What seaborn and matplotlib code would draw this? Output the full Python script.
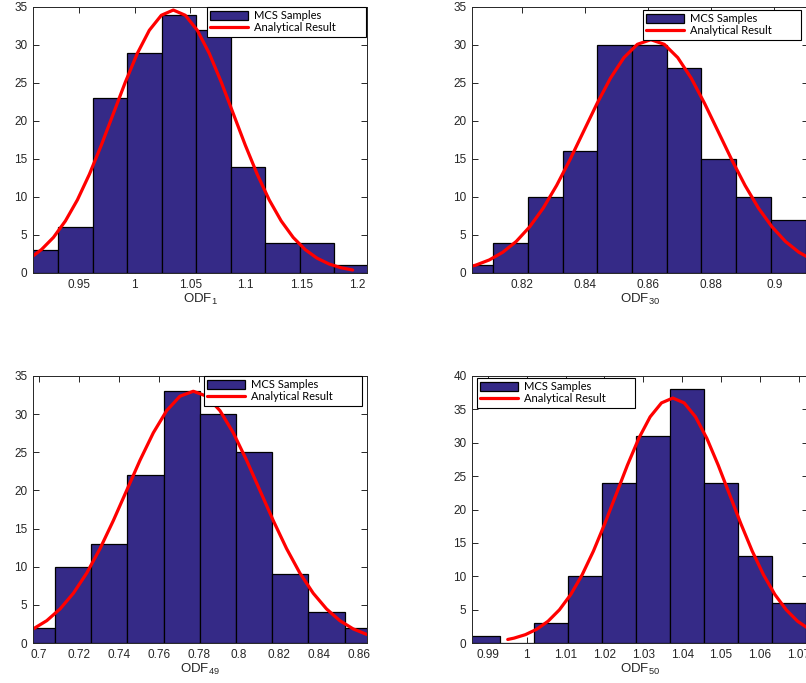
import numpy as np
import pandas as pd
import matplotlib
matplotlib.use("Agg")
import matplotlib.pyplot as plt
import seaborn as sns
from matplotlib.patches import Patch
from matplotlib.lines import Line2D

# ---------------- data ----------------
# Panel ODF_1
odf1_counts = [3, 6, 23, 29, 34, 32, 14, 4, 4, 1]
odf1_first_edge = 0.9000
odf1_bin_width = 0.03105
odf1_curve_x = [0.9083, 0.9159, 0.9267, 0.9375, 0.9483, 0.9591, 0.9699, 0.9807, 0.9915,
                1.0023, 1.0131, 1.0239, 1.0347, 1.0455, 1.0563, 1.0671, 1.0779, 1.0887,
                1.0995, 1.1103, 1.1211, 1.1319, 1.1427, 1.1535, 1.1643, 1.1751, 1.1859, 1.1963]
odf1_curve_y = [2.24, 3.08, 4.68, 6.85, 9.62, 12.99, 16.84, 20.98, 25.12,
                28.90, 31.94, 33.91, 34.60, 33.91, 31.94, 28.90, 25.12, 20.98,
                16.84, 12.99, 9.62, 6.85, 4.68, 3.08, 1.94, 1.18, 0.69, 0.39]
odf1_xticks = [0.95, 1.0, 1.05, 1.1, 1.15, 1.2]
odf1_xticklabels = ["0.95", "1", "1.05", "1.1", "1.15", "1.2"]

# Panel ODF_30
odf30_counts = [1, 4, 10, 16, 30, 30, 27, 15, 10, 7]
odf30_first_edge = 0.80002
odf30_bin_width = 0.010986
odf30_curve_x = [0.8043, 0.80552, 0.80978, 0.81404, 0.8183, 0.82256, 0.82682, 0.83108, 0.83534,
                 0.8396, 0.84386, 0.84812, 0.85238, 0.85664, 0.8609, 0.86516, 0.86942, 0.87368,
                 0.87794, 0.8822, 0.88646, 0.89072, 0.89498, 0.89924, 0.9035, 0.90776, 0.9107]
odf30_curve_y = [0.90, 1.04, 1.72, 2.73, 4.15, 6.08, 8.53, 11.52, 14.94,
                 18.62, 22.29, 25.64, 28.34, 30.09, 30.70, 30.09, 28.34, 25.64,
                 22.29, 18.62, 14.94, 11.52, 8.53, 6.08, 4.15, 2.73, 2.05]
odf30_xticks = [0.82, 0.84, 0.86, 0.88, 0.90]
odf30_xticklabels = ["0.82", "0.84", "0.86", "0.88", "0.9"]

# Panel ODF_49
odf49_counts = [2, 10, 13, 22, 33, 30, 25, 9, 4, 2]
odf49_first_edge = 0.69004
odf49_bin_width = 0.018106
odf49_curve_x = [0.69715, 0.70404, 0.7107, 0.71736, 0.72402, 0.73068, 0.73734, 0.744, 0.75066,
                 0.75732, 0.76398, 0.77064, 0.7773, 0.78396, 0.79062, 0.79728, 0.80394, 0.8106,
                 0.81726, 0.82392, 0.83058, 0.83724, 0.8439, 0.85056, 0.85722, 0.86415]
odf49_curve_y = [1.83, 2.93, 4.47, 6.53, 9.17, 12.38, 16.06, 20.01, 23.96,
                 27.56, 30.46, 32.35, 33.00, 32.35, 30.46, 27.56, 23.96, 20.01,
                 16.06, 12.38, 9.17, 6.53, 4.47, 2.93, 1.85, 1.11]
odf49_xticks = [0.70, 0.72, 0.74, 0.76, 0.78, 0.80, 0.82, 0.84, 0.86]
odf49_xticklabels = ["0.7", "0.72", "0.74", "0.76", "0.78", "0.8", "0.82", "0.84", "0.86"]

# Panel ODF_50
odf50_counts = [1, 0, 3, 10, 24, 31, 38, 24, 13, 6]
odf50_first_edge = 0.98444
odf50_bin_width = 0.00875
odf50_curve_x = [0.9951, 0.99672, 0.99964, 1.00256, 1.00548, 1.0084, 1.01132, 1.01424, 1.01716,
                 1.02008, 1.023, 1.02592, 1.02884, 1.03176, 1.03468, 1.0376, 1.04052, 1.04344,
                 1.04636, 1.04928, 1.0522, 1.05512, 1.05804, 1.06096, 1.06388, 1.0668, 1.06972, 1.0724]
odf50_curve_y = [0.53, 0.73, 1.25, 2.06, 3.26, 4.97, 7.26, 10.20, 13.77,
                 17.87, 22.26, 26.65, 30.66, 33.88, 35.97, 36.70, 35.97, 33.88,
                 30.66, 26.65, 22.26, 17.87, 13.77, 10.20, 7.26, 4.97, 3.26, 2.20]
odf50_xticks = [0.99, 1.00, 1.01, 1.02, 1.03, 1.04, 1.05, 1.06, 1.07]
odf50_xticklabels = ["0.99", "1", "1.01", "1.02", "1.03", "1.04", "1.05", "1.06", "1.07"]

xlabels = ["ODF$_{1}$", "ODF$_{30}$", "ODF$_{49}$", "ODF$_{50}$"]
legend_labels = ["MCS Samples", "Analytical Result"]

# ---------------- style ----------------
sns.set_style("ticks")
plt.rcParams["font.family"] = ["Liberation Sans", "DejaVu Sans"]
plt.rcParams["mathtext.default"] = "regular"

BAR_COLOR = "#352A87"
AX_COLOR = "#262626"
W, H = 806, 683

fig = plt.figure(figsize=(W / 100, H / 100), dpi=100)

# layout in figure pixels: (left, top, width, height), xlim, ylim, yticks, legend(left, top, width)
layout = [
    dict(rect=(33, 7, 334, 266), xlim=(0.9083, 1.2092), ylim=(0, 35), yt=range(0, 36, 5), leg=(207, 7, 159)),
    dict(rect=(472, 7, 336, 266), xlim=(0.8043, 0.91064), ylim=(0, 35), yt=range(0, 36, 5), leg=(643, 10, 158)),
    dict(rect=(33, 376, 334, 267), xlim=(0.69715, 0.86415), ylim=(0, 35), yt=range(0, 36, 5), leg=(204, 376, 158)),
    dict(rect=(472, 376, 336, 267), xlim=(0.9859, 1.0724), ylim=(0, 40), yt=range(0, 41, 5), leg=(477, 378, 158)),
]

panels = [
    (odf1_counts, odf1_first_edge, odf1_bin_width, odf1_curve_x, odf1_curve_y, odf1_xticks, odf1_xticklabels),
    (odf30_counts, odf30_first_edge, odf30_bin_width, odf30_curve_x, odf30_curve_y, odf30_xticks, odf30_xticklabels),
    (odf49_counts, odf49_first_edge, odf49_bin_width, odf49_curve_x, odf49_curve_y, odf49_xticks, odf49_xticklabels),
    (odf50_counts, odf50_first_edge, odf50_bin_width, odf50_curve_x, odf50_curve_y, odf50_xticks, odf50_xticklabels),
]

for (counts, first, bw, cx, cy, xt, xtl), lay, xl in zip(panels, layout, xlabels):
    l, t, w, h = lay["rect"]
    ax = fig.add_axes([l / W, 1 - (t + h) / H, w / W, h / H])
    edges = [float(first + bw * i) for i in range(len(counts) + 1)]
    centers = [e + bw / 2 for e in edges[:-1]]
    hist_df = pd.DataFrame({"value": centers, "count": counts})
    sns.histplot(data=hist_df, x="value", weights="count", bins=edges, ax=ax,
                 color=BAR_COLOR, edgecolor="black", linewidth=0.9, alpha=1.0)
    curve_df = pd.DataFrame({"x": cx, "y": cy})
    sns.lineplot(data=curve_df, x="x", y="y", ax=ax, color="red", linewidth=2.3,
                 estimator=None, sort=False, solid_joinstyle="round", solid_capstyle="round")
    ax.set_xlim(*lay["xlim"])
    ax.set_ylim(*lay["ylim"])
    ax.set_xticks(xt)
    ax.set_xticklabels(xtl)
    ax.set_yticks(list(lay["yt"]))
    ax.set_ylabel("")
    ax.set_xlabel(xl, fontsize=9.5, color=AX_COLOR, labelpad=1)
    ax.tick_params(axis="both", which="both", direction="in", length=4, width=0.7,
                   top=True, right=True, colors=AX_COLOR, labelsize=8.5, pad=4)
    for s in ax.spines.values():
        s.set_visible(True)
        s.set_color(AX_COLOR)
        s.set_linewidth(0.7)

    handles = [Patch(facecolor=BAR_COLOR, edgecolor="black", linewidth=0.9),
               Line2D([0], [0], color="red", linewidth=2.3)]
    ll, lt, lw = lay["leg"]
    leg = ax.legend(handles, legend_labels, loc="upper left",
                    bbox_to_anchor=(ll / W, 1 - lt / H, lw / W, 0.0),
                    bbox_transform=fig.transFigure, mode="expand", borderaxespad=0,
                    prop={"family": "Lato", "size": 8}, frameon=True, fancybox=False,
                    framealpha=1, edgecolor="black", borderpad=0.3, labelspacing=0.1,
                    handlelength=3.4, handleheight=0.9, handletextpad=0.5)
    leg.get_frame().set_linewidth(0.8)
    for txt in leg.get_texts():
        txt.set_color("black")

fig.savefig("out.png", dpi=100)
